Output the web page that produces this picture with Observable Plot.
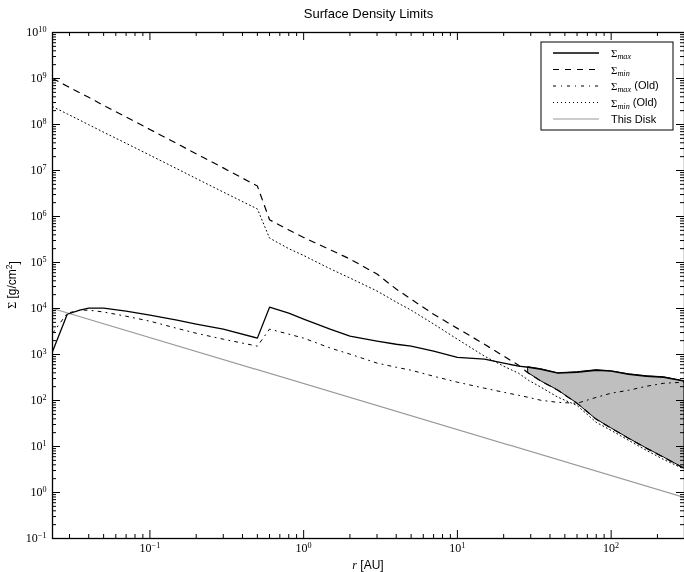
<!DOCTYPE html>
<html><head><meta charset="utf-8">
<script src="https://cdn.jsdelivr.net/npm/d3@7"></script>
<script src="https://cdn.jsdelivr.net/npm/@observablehq/plot@0.6"></script>
<style>body{margin:0;background:#fff} svg{display:block; will-change: transform;} svg text{-webkit-font-smoothing: antialiased;}</style>
</head><body><div id="chart"></div>
<script>
// radius grid (AU)
const r = [0.0233, 0.029, 0.035, 0.04, 0.05, 0.07, 0.1, 0.15, 0.2, 0.3, 0.5, 0.6, 0.8, 1, 1.5, 2, 3, 4, 5, 7, 10, 15, 20, 25, 29, 35, 45, 60, 80, 100, 130, 170, 220, 300];
const sigmaMax = [1.18e3, 7.5e3, 9.2e3, 1.02e4, 1.02e4, 8.8e3, 7.2e3, 5.6e3, 4.6e3, 3.56e3, 2.27e3, 1.07e4, 7.9e3, 5.9e3, 3.5e3, 2.5e3, 1.95e3, 1.67e3, 1.52e3, 1.18e3, 870, 790, 650, 556, 528, 478, 392, 411, 455, 433, 372, 337, 320, 262];
const sigmaMin = [1.0e9, 6.8e8, 4.9e8, 3.9e8, 2.6e8, 1.46e8, 7.8e7, 3.85e7, 2.3e7, 1.14e7, 4.6e6, 8.5e5, 5.1e5, 3.5e5, 1.87e5, 1.19e5, 5.6e4, 2.65e4, 1.6e4, 7.5e3, 3.7e3, 1.67e3, 920, 585, 392, 262, 167, 87, 39, 25, 15, 9.1, 5.8, 3.3];
const sigmaMaxOld = [2.9e3, 7.9e3, 9.2e3, 9.2e3, 8.4e3, 6.8e3, 5.3e3, 3.7e3, 2.9e3, 2.15e3, 1.52e3, 3.56e3, 2.77e3, 2.27e3, 1.37e3, 1.02e3, 650, 528, 455, 337, 250, 185, 151, 130, 117, 101, 91, 87, 117, 144, 167, 204, 237, 250];
const sigmaMinOld = [2.44e8, 1.7e8, 1.24e8, 9.9e7, 6.8e7, 3.9e7, 2.15e7, 1.09e7, 6.7e6, 3.4e6, 1.46e6, 3.4e5, 2.0e5, 1.42e5, 7.2e4, 4.6e4, 2.4e4, 1.38e4, 9.2e3, 4.6e3, 2.15e3, 920, 556, 392, 275, 194, 118, 78, 33.5, 22.4, 13.6, 8.2, 5.2, 3.2];
// "This Disk" power law end points
const diskR = [0.0233, 300];
const diskSigma = [1.0e4, 0.78];

const xTicks = [0.1, 1, 10, 100];
const yTicks = [1e-1, 1e0, 1e1, 1e2, 1e3, 1e4, 1e5, 1e6, 1e7, 1e8, 1e9, 1e10];
const xDomain = [0.02325, 300];
const yDomain = [0.1, 1e10];

const legendSymbols = ["Σ", "Σ", "Σ", "Σ", ""];
const legendSubs = ["max", "min", "max", "min", ""];
const legendSuffix = ["", "", " (Old)", " (Old)", "This Disk"];
const legendDash = [null, "6,6", "3,5,1,5", "1,3", null];
const legendColor = ["black", "black", "black", "black", "#999"];

const rows = r.map((d, i) => ({r: d, max: sigmaMax[i], min: sigmaMin[i], maxOld: sigmaMaxOld[i], minOld: sigmaMinOld[i]}));
const shaded = rows.filter(d => d.min < d.max);
const disk = diskR.map((d, i) => ({r: d, s: diskSigma[i]}));

const minorX = [], minorY = [];
for (let e = -2; e <= 2; e++) for (let k = 2; k <= 9; k++) { const v = k * Math.pow(10, e); if (v >= xDomain[0] && v <= xDomain[1]) minorX.push(v); }
for (let e = -1; e <= 9; e++) for (let k = 2; k <= 9; k++) { const v = k * Math.pow(10, e); if (v >= yDomain[0] && v <= yDomain[1]) minorY.push(v); }

const W = 684, H = 572, mL = 52, mR = 0, mT = 32, mB = 34;
const pw = W - mL - mR, ph = H - mT - mB;
const serif = "'Liberation Serif', 'DejaVu Serif', serif";
const sans = "'Liberation Sans', Arial, sans-serif";
const fmt = d => "10^" + Math.round(Math.log10(d));

const svg = Plot.plot({
  width: W, height: H,
  marginLeft: mL, marginRight: mR, marginTop: mT, marginBottom: mB,
  style: {fontFamily: serif, fontSize: "12px", background: "white"},
  x: {type: "log", domain: xDomain},
  y: {type: "log", domain: yDomain},
  marks: [
    Plot.areaY(shaded, {x: "r", y1: "min", y2: "max", fill: "#bfbfbf", stroke: "black", strokeWidth: 1, curve: "linear"}),
    Plot.line(disk, {x: "r", y: "s", stroke: "#999", strokeWidth: 1.2}),
    Plot.line(rows, {x: "r", y: "minOld", stroke: "black", strokeWidth: 1, strokeDasharray: "1,3"}),
    Plot.line(rows, {x: "r", y: "maxOld", stroke: "black", strokeWidth: 1, strokeDasharray: "3,5,1,5"}),
    Plot.line(rows, {x: "r", y: "min", stroke: "black", strokeWidth: 1.2, strokeDasharray: "6,6"}),
    Plot.line(rows, {x: "r", y: "max", stroke: "black", strokeWidth: 1.3}),
    Plot.frame({stroke: "black", strokeWidth: 1.3}),
    Plot.tickX(xTicks, {x: d => d, insetTop: ph - 8, stroke: "black"}),
    Plot.tickX(xTicks, {x: d => d, insetBottom: ph - 8, stroke: "black"}),
    Plot.tickX(minorX, {x: d => d, insetTop: ph - 4, stroke: "black"}),
    Plot.tickX(minorX, {x: d => d, insetBottom: ph - 4, stroke: "black"}),
    Plot.tickY(yTicks, {y: d => d, insetRight: pw - 8, stroke: "black"}),
    Plot.tickY(yTicks, {y: d => d, insetLeft: pw - 8, stroke: "black"}),
    Plot.tickY(minorY, {y: d => d, insetRight: pw - 4, stroke: "black"}),
    Plot.tickY(minorY, {y: d => d, insetLeft: pw - 4, stroke: "black"}),
    Plot.axisX(xTicks, {tickSize: 0, tickPadding: 5, tickFormat: fmt, label: null, fontSize: 12}),
    Plot.axisY(yTicks, {tickSize: 0, tickPadding: 6, tickFormat: fmt, label: null, fontSize: 12}),
    Plot.text(["Surface Density Limits"], {text: d => d, frameAnchor: "top", dy: -24, fontFamily: sans, fontSize: 13})
  ]
});

// superscript exponents in tick labels
d3.select(svg).selectAll("text").each(function() {
  const m = /^10\^(-?\d+)$/.exec(this.textContent);
  if (m) {
    const el = d3.select(this);
    el.text("10");
    el.append("tspan").attr("dy", "-0.5em").attr("font-size", "0.68em").text(m[1].replace("-", "\u2212"));
  }
});

const s = d3.select(svg);
// y label
const yl = s.append("text").attr("transform", `translate(16,${mT + ph / 2}) rotate(-90)`)
  .attr("text-anchor", "middle").attr("font-size", 12);
yl.append("tspan").attr("font-family", serif).text("Σ");
yl.append("tspan").attr("font-family", sans).text(" [g/cm");
yl.append("tspan").attr("font-family", sans).attr("font-size", "0.7em").attr("dy", "-0.45em").text("2");
yl.append("tspan").attr("font-family", sans).attr("dy", "0.45em").text("]");
// x label
const xl = s.append("text").attr("x", mL + pw / 2).attr("y", H - 3).attr("text-anchor", "middle").attr("font-size", 12);
xl.append("tspan").attr("font-family", serif).attr("font-style", "italic").text("r");
xl.append("tspan").attr("font-family", sans).text(" [AU]");

// legend
const lx = 541, ly = 42, lw = 132, lh = 88;
const lg = s.append("g");
lg.append("rect").attr("x", lx).attr("y", ly).attr("width", lw).attr("height", lh).attr("fill", "white").attr("stroke", "black").attr("stroke-width", 1);
legendSuffix.forEach((suf, i) => {
  const yy = ly + 11 + i * 16.5;
  lg.append("line").attr("x1", lx + 12).attr("x2", lx + 58).attr("y1", yy).attr("y2", yy)
    .attr("stroke", legendColor[i]).attr("stroke-width", i === 0 ? 1.3 : 1.2)
    .attr("stroke-dasharray", legendDash[i]);
  const t = lg.append("text").attr("x", lx + 70).attr("y", yy + 4).attr("font-size", 11).attr("text-anchor", "start");
  if (legendSymbols[i]) {
    t.append("tspan").attr("font-family", serif).text(legendSymbols[i]);
    t.append("tspan").attr("font-family", serif).attr("font-style", "italic").attr("font-size", "0.75em").attr("dy", "0.3em").text(legendSubs[i]);
    if (suf) t.append("tspan").attr("font-family", sans).attr("dy", "-0.3em").text(suf);
  } else {
    t.append("tspan").attr("font-family", sans).text(suf);
  }
});

document.getElementById("chart").appendChild(svg);
</script>
</body></html>
